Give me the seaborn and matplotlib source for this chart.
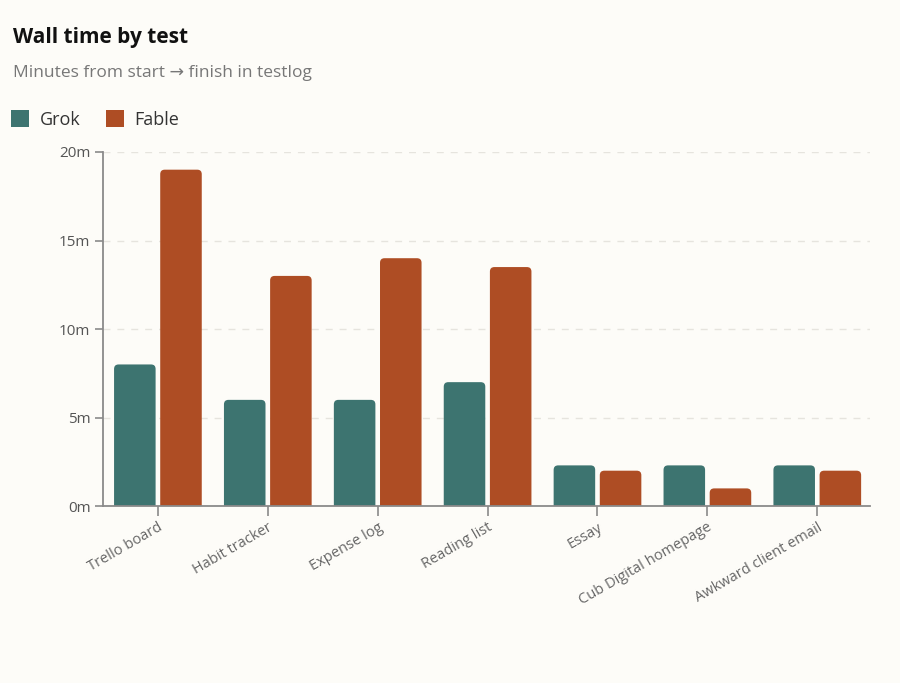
import matplotlib
matplotlib.use("Agg")
from matplotlib import pyplot as plt
from matplotlib.patches import FancyBboxPatch, Patch
import seaborn as sns
import pandas as pd

tests = ["Trello board", "Habit tracker", "Expense log", "Reading list",
         "Essay", "Cub Digital homepage", "Awkward client email"]
grok_minutes = [8, 6, 6, 7, 2.3, 2.3, 2.3]
fable_minutes = [19, 13, 14, 13.5, 2, 1, 2]
models = ["Grok", "Fable"]
model_colors = {"Grok": "#3d7470", "Fable": "#ae4d24"}
y_ticks = [0, 5, 10, 15, 20]

bg = "#fdfcf8"
sns.set_theme(style="white")
plt.rcParams["font.family"] = ["Open Sans", "DejaVu Sans"]

df = pd.DataFrame({
    "test": tests * 2,
    "model": ["Grok"] * len(tests) + ["Fable"] * len(tests),
    "minutes": grok_minutes + fable_minutes,
})

fig = plt.figure(figsize=(9, 6.83), dpi=100, facecolor=bg)
ax = fig.add_axes([0.1144, 0.259, 0.8523, 0.5185])
ax.set_facecolor(bg)

sns.barplot(data=df, x="test", y="minutes", hue="model", hue_order=models,
            palette=model_colors, width=0.84, gap=0.1, saturation=1, ax=ax,
            legend=False, errorbar=None)

ax.set_ylim(0, 20)
ax.set_xlim(-0.5, 6.48)

# swap plain bars for ones with rounded top corners
fig.canvas.draw()
px_per_x = ax.bbox.width / (ax.get_xlim()[1] - ax.get_xlim()[0])
px_per_y = ax.bbox.height / (ax.get_ylim()[1] - ax.get_ylim()[0])
r_px = 4.5
for bar in list(ax.patches):
    x, w, h = bar.get_x(), bar.get_width(), bar.get_height()
    if h <= 0:
        continue
    col = bar.get_facecolor()
    bar.remove()
    rx = r_px / px_per_x
    ry = r_px / px_per_y
    rounded = FancyBboxPatch((x, -ry), w, h + ry,
                             boxstyle=f"round,pad=0,rounding_size={rx}",
                             mutation_aspect=ry / rx,
                             facecolor=col, edgecolor="none", zorder=2)
    ax.add_patch(rounded)

ax.set_yticks(y_ticks)
ax.set_yticklabels([f"{v}m" for v in y_ticks])
ax.yaxis.grid(True, linestyle=(0, (5, 5)), color="#e6e4de", linewidth=1)
ax.set_axisbelow(True)

for s in ["top", "right"]:
    ax.spines[s].set_visible(False)
for s in ["left", "bottom"]:
    ax.spines[s].set_color("#8a8a8a")
    ax.spines[s].set_linewidth(1.3)

ax.tick_params(axis="y", left=True, length=6, width=1.2, color="#8a8a8a",
               labelsize=11, labelcolor="#555555", pad=3)
ax.tick_params(axis="x", bottom=True, length=7, width=1.2, color="#8a8a8a",
               labelsize=10.5, labelcolor="#666666", pad=3)
for lbl in ax.get_xticklabels():
    lbl.set_rotation(30)
    lbl.set_ha("right")
    lbl.set_rotation_mode("anchor")
ax.set_xlabel("")
ax.set_ylabel("")

fig.text(0.0144, 0.945, "Wall time by test", fontsize=15, fontweight="bold",
         color="#111111", va="center")
fig.text(0.0144, 0.893, "Minutes from start \u2192 finish in testlog", fontsize=12.5,
         color="#777777", va="center")

handles = [Patch(facecolor=model_colors[m], edgecolor="none", label=m) for m in models]
leg = fig.legend(handles=handles, loc="center left", bbox_to_anchor=(-0.006, 0.825),
                 ncol=2, frameon=False, fontsize=13, handlelength=1.0,
                 handleheight=1.0, handletextpad=0.6, columnspacing=1.4)
for t in leg.get_texts():
    t.set_color("#333333")

fig.savefig("out.png", dpi=100, facecolor=bg)
